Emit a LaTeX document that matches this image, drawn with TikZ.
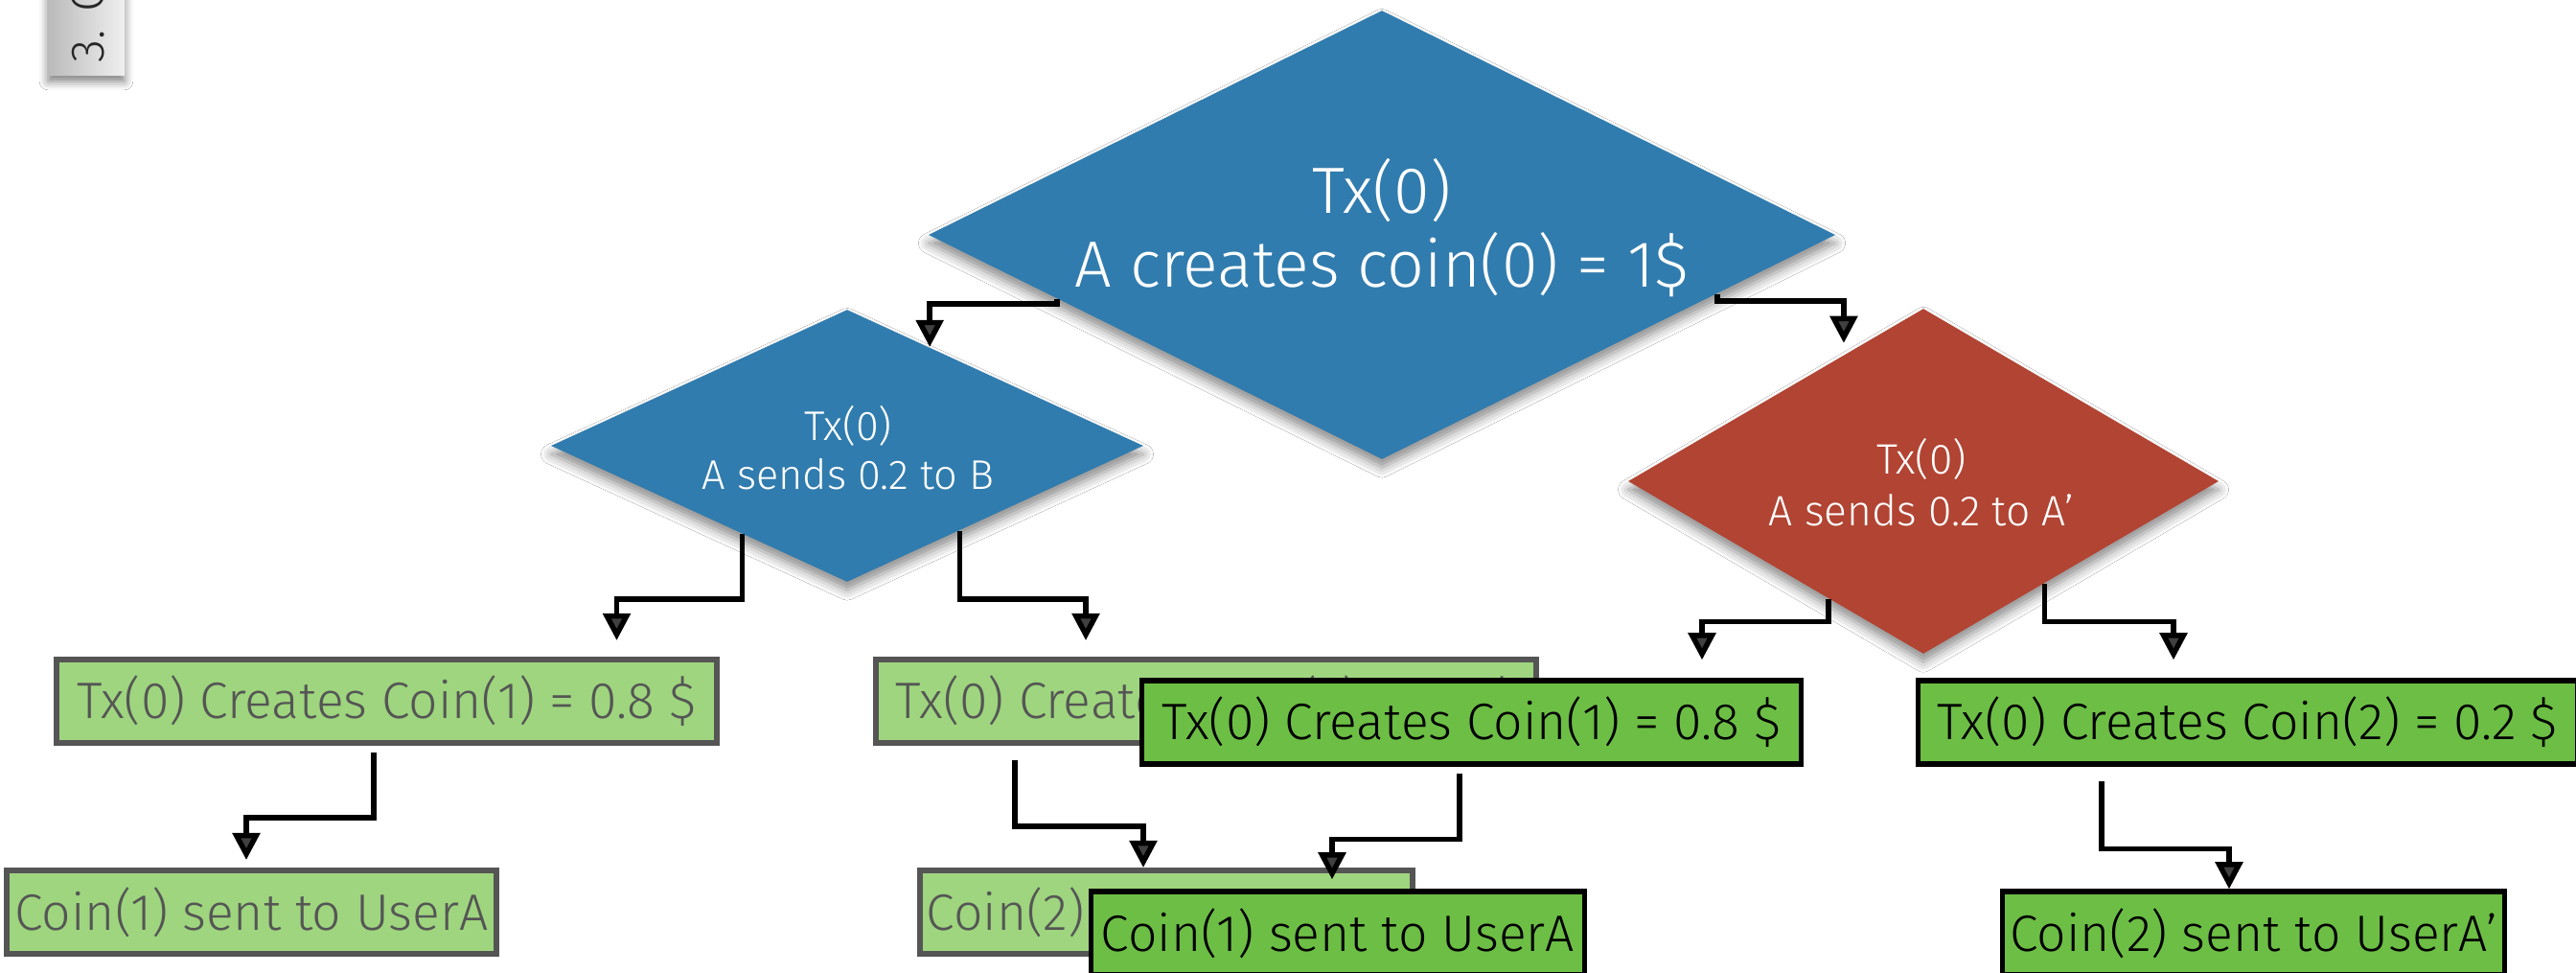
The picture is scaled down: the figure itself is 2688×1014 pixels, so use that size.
\documentclass[tikz,border=0pt]{standalone}
\usepackage{fontspec}
\setmainfont{Fira Sans}[UprightFont=* Light]
\usetikzlibrary{shapes.geometric,arrows.meta,calc,shadows.blur}

\definecolor{txblue}{HTML}{317CAE}
\definecolor{txred}{HTML}{B14433}
\definecolor{lgreen}{HTML}{9ED57E}
\definecolor{dgreen}{HTML}{6DBE45}
\definecolor{lborder}{HTML}{555555}

\tikzset{
  diam/.style={diamond, draw=none, inner sep=0pt,
    blur shadow={shadow xshift=0pt, shadow yshift=-2.5pt, shadow blur radius=3pt, shadow opacity=45}},
  bigtxt/.style={text=white, align=center, inner sep=0pt,
    font=\fontsize{19.4pt}{21.9pt}\selectfont},
  midtxt/.style={text=white, align=center, inner sep=0pt,
    font=\fontsize{12.3pt}{14.5pt}\selectfont},
  boxbase/.style={rectangle, inner sep=0pt, minimum height=0.87cm,
    font=\fontsize{15.2pt}{17pt}\selectfont},
  lbox/.style={boxbase, fill=lgreen, draw=lborder, line width=1.7pt, text=lborder},
  dbox/.style={boxbase, fill=dgreen, draw=black, line width=1.5pt, text=black},
  arr/.style={line width=1.55pt, -{Triangle[width=8pt,length=8pt]}},
}

\begin{document}
\begin{tikzpicture}[x=0.01cm, y=-0.01cm]
  \clip (0,0) rectangle (2688,1014);
  \fill[white] (0,0) rectangle (2688,1014);

  % chapter tab in the corner
  \shade[left color=black!27, right color=black!6,
    blur shadow={shadow xshift=0pt, shadow yshift=-2pt, shadow blur radius=2.5pt, shadow opacity=50}]
    (50,-20) rectangle (130,78);
  \node[rotate=90, anchor=base west, inner sep=0pt, text=black!85,
    font=\fontsize{14pt}{16pt}\selectfont] (tab) at (108,66) {3. C};

  % decision diamonds
  \node[diam, fill=txblue, minimum width=9.46cm, minimum height=4.68cm] (big) at (1442,245) {};
  \node[bigtxt] (bigtext) at (1442,238) {Tx(0)\\A creates coin(0) = 1\$};

  \node[diam, fill=txblue, minimum width=6.18cm, minimum height=2.84cm] (med) at (884,465) {};
  \node[midtxt] (medtext) at (885,467) {Tx(0)\\A sends 0.2 to B};

  \node[diam, fill=txred, minimum width=6.16cm, minimum height=3.60cm] (red) at (2007,502) {};
  \node[midtxt, font=\fontsize{12.6pt}{15.5pt}\selectfont] (redtext) at (2005,503) {Tx(0)\\A sends 0.2 to A’};

  % outcome boxes of the first branch
  \node[lbox, minimum width=6.89cm] (b1) at (403.5,731.5) {Tx(0) Creates Coin(1) = 0.8 \$};
  \node[lbox, minimum width=5.11cm] (b2) at (262.5,951.5) {Coin(1) sent to UserA};
  \node[lbox, minimum width=6.89cm] (b3) at (1258.5,731.5) {Tx(0) Creates Coin(2) = 0.2 \$};
  \node[lbox, minimum width=5.14cm] (b4) at (1217,951.5) {Coin(2) sent to UserB};

  % outcome boxes of the second branch
  \node[dbox, minimum width=6.88cm] (b5) at (1535.5,753.5) {Tx(0) Creates Coin(1) = 0.8 \$};
  \node[dbox, minimum width=5.15cm] (b6) at (1396,973.5) {Coin(1) sent to UserA};
  \node[dbox, minimum width=6.88cm] (b7) at (2345.5,753.5) {Tx(0) Creates Coin(2) = 0.2 \$};
  \node[dbox, minimum width=5.24cm] (b8) at (2351.5,973.5) {Coin(2) sent to UserA’};

  % connectors
  \draw[arr] ($(big.west)!0.285!(big.south)$) |- ($(med.north)!0.278!(med.east)+(0,-45)$) -- ($(med.north)!0.278!(med.east)$);
  \draw[arr] ($(big.east)!0.262!(big.south)$) |- ($(red.north)!0.269!(red.west)+(0,-56)$) -- ($(red.north)!0.269!(red.west)+(0,-12)$);

  \draw[arr] ($(med.west)!0.647!(med.south)$) |- ($(b1.north)+(240,-60)$) -- ($(b1.north)+(240,-17)$);
  \draw[arr] ($(med.east)!0.621!(med.south)$) |- ($(b3.north)+(-125.5,-60)$) -- ($(b3.north)+(-125.5,-17)$);

  \draw[arr] ($(red.west)!0.68!(red.south)$) |- ($(b5.north)+(240.5,-59)$) -- ($(b5.north)+(240.5,-19)$);
  \draw[arr] ($(red.east)!0.59!(red.south)$) |- ($(b7.north)+(-77.5,-59)$) -- ($(b7.north)+(-77.5,-19)$);

  \draw[arr] ($(b1.south)+(-13.5,7)$) |- ($(b2.north)+(-5.5,-52)$) -- ($(b2.north)+(-5.5,-8)$);
  \draw[arr] ($(b3.south)+(-199.5,15)$) |- ($(b4.north)+(-24,-43)$) -- ($(b4.north)+(-24,0)$);
  \draw[arr] ($(b5.south)+(-12.5,7)$) |- ($(b6.north)+(-6,-52)$) -- ($(b6.north)+(-6,-10)$);
  \draw[arr] ($(b7.south)+(-152.5,15)$) |- ($(b8.north)+(-25.5,-42)$) -- ($(b8.north)+(-25.5,0)$);
\end{tikzpicture}
\end{document}
